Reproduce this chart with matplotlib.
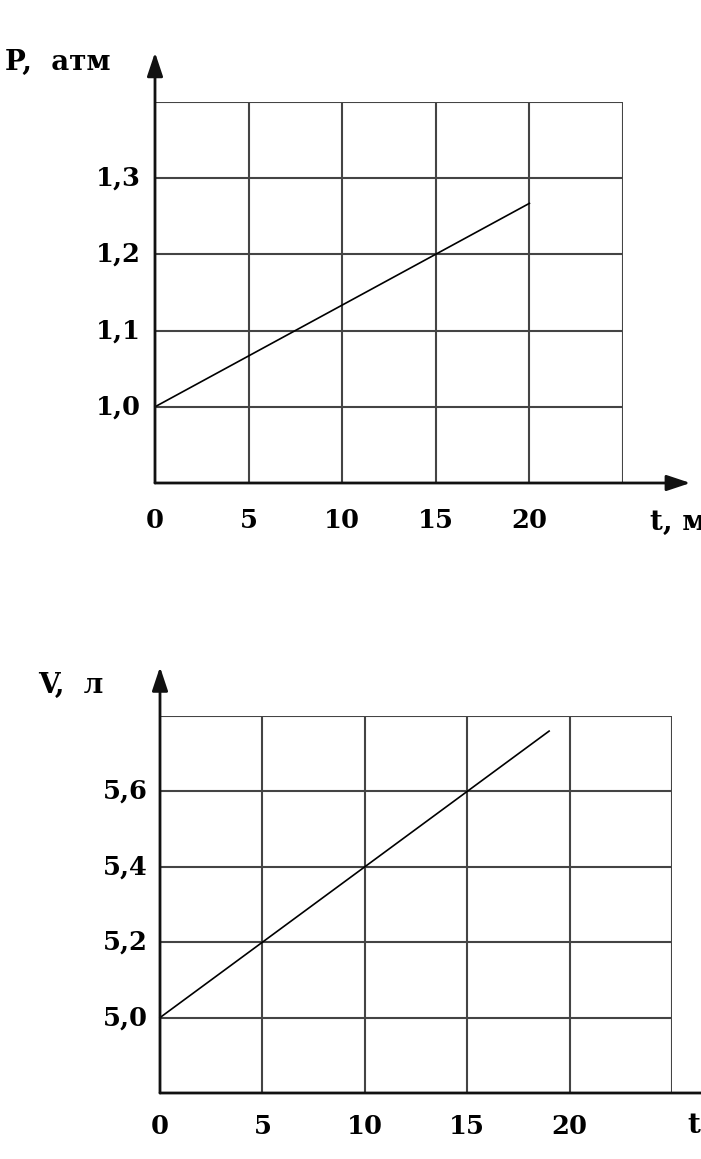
import numpy as np
import matplotlib.pyplot as plt

# data
t_p = [0, 20]
p_vals = [1.0, 1.267]
p_ticks = [1.0, 1.1, 1.2, 1.3]
p_labels = ["1,0", "1,1", "1,2", "1,3"]

t_v = [0, 19]
v_vals = [5.0, 5.76]
v_ticks = [5.0, 5.2, 5.4, 5.6]
v_labels = ["5,0", "5,2", "5,4", "5,6"]

t_ticks = [0, 5, 10, 15, 20]
t_labels = ["0", "5", "10", "15", "20"]

W, H = 701, 1159
FONT = dict(family="DejaVu Serif", fontweight="bold", fontsize=18.5)
LFONT = dict(family="DejaVu Serif", fontweight="bold", fontsize=20)
GRID = "#444444"


def box(l, t, r, b):
    """pixel box -> figure fraction rect"""
    return [l / W, 1 - b / H, (r - l) / W, (b - t) / H]


def panel(fig, rect, ylim, yticks, ylabels, tx, ty, ylabel, xlabel,
          yarrow, xarrow, xlab_pos, ylab_pos, ygap, xgap):
    ax = fig.add_axes(rect)
    ax.set_xlim(0, 25)
    ax.set_ylim(*ylim)
    for s in ax.spines.values():
        s.set_visible(False)
    ax.set_xticks([])
    ax.set_yticks([])

    # grid
    for x in [5, 10, 15, 20, 25]:
        ax.plot([x, x], ylim, color=GRID, lw=1.5)
    step = yticks[1] - yticks[0]
    for y in list(yticks) + [yticks[-1] + step]:
        ax.plot([0, 25], [y, y], color=GRID, lw=1.5)

    # axes with arrows
    arrow = dict(arrowstyle="-|>,head_length=0.9,head_width=0.3", color="#111111",
                 lw=2.0, mutation_scale=16, shrinkA=0, shrinkB=0)
    ax.annotate("", xy=(0, yarrow), xytext=(0, ylim[0]), arrowprops=arrow,
                annotation_clip=False)
    ax.annotate("", xy=(xarrow, ylim[0]), xytext=(0, ylim[0]), arrowprops=arrow,
                annotation_clip=False)

    ax.plot(tx, ty, color="black", lw=1.2, clip_on=False)

    for y, lab in zip(yticks, ylabels):
        ax.annotate(lab, (0, y), xytext=(-ygap, 0), textcoords="offset pixels",
                    ha="right", va="center", **FONT)
    for x, lab in zip(t_ticks, t_labels):
        ax.annotate(lab, (x, ylim[0]), xytext=(0, -xgap), textcoords="offset pixels",
                    ha="center", va="center", **FONT)

    fig.text(ylab_pos[0] / W, 1 - ylab_pos[1] / H, ylabel,
             ha="left", va="center", **LFONT)
    fig.text(xlab_pos[0] / W, 1 - xlab_pos[1] / H, xlabel,
             ha="left", va="center", **LFONT)
    return ax


fig = plt.figure(figsize=(W / 100, H / 100), dpi=100)

panel(fig, box(155, 102, 623, 483), (0.9, 1.4), p_ticks, p_labels,
      t_p, p_vals, "P,  атм", "t, мин", 1.465, 28.6, (650, 522), (5, 62), 14, 37)

panel(fig, box(160, 716, 672, 1093), (4.8, 5.8), v_ticks, v_labels,
      t_v, v_vals, "V,  л", "t, мин", 5.93, 30, (688, 1125), (38, 685), 12, 34)

fig.savefig("out.png", dpi=100)
